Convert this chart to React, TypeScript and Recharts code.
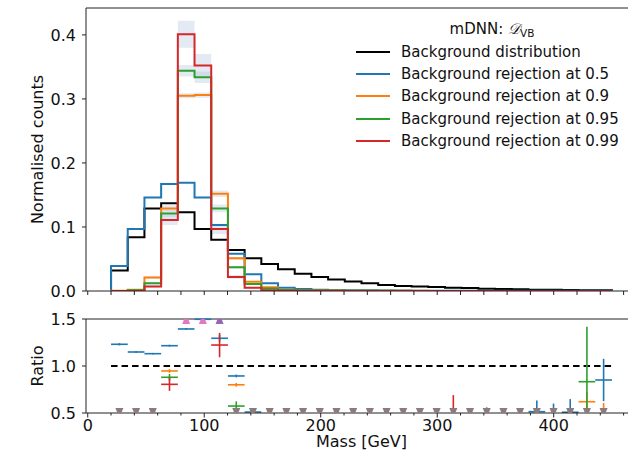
import { ComposedChart, Line, Area, XAxis, YAxis, Scatter, ErrorBar, ReferenceLine, Legend } from 'recharts'

// histogram binning: 30 equal bins between 20 and 450 GeV
const histLow = 20
const histHigh = 450
const nBins = 30
const binEdges = Array.from({ length: nBins + 1 }, (_, i) => histLow + (i * (histHigh - histLow)) / nBins)
const binCentres = binEdges.slice(0, nBins).map((e, i) => (e + binEdges[i + 1]) / 2)
const halfBin = (histHigh - histLow) / nBins / 2

const massTicks = [0, 20, 40, 60, 80, 100, 120, 140, 160, 180, 200, 220, 240, 260, 280, 300, 320, 340, 360, 380, 400, 420, 440, 460]
const countTicks = [0, 0.1, 0.2, 0.3, 0.4]
const ratioTicks = [0.5, 1.0, 1.5]
const ratioLow = 0.5
const ratioHigh = 1.5

// normalised counts per bin
const bgCounts = [0.032, 0.084, 0.129, 0.137, 0.123, 0.097, 0.080, 0.064, 0.051, 0.042, 0.034, 0.027, 0.022, 0.018, 0.015, 0.012, 0.0095, 0.008, 0.0072, 0.0062, 0.005, 0.0045, 0.0035, 0.003, 0.0026, 0.002, 0.0018, 0.0015, 0.0012, 0.001]
const rej50Counts = [0.039, 0.097, 0.146, 0.167, 0.169, 0.146, 0.103, 0.058, 0.026, 0.012, 0.005, 0.003, 0.002, 0.0015, 0.0012, 0.001, 0.0008, 0.0006, 0.0005, 0.0004, 0.0003, 0.0003, 0.0003, 0.0002, 0.0002, 0.0002, 0.0002, 0.0002, 0.0002, 0.0002]
const rej90Counts = [0.0005, 0.002, 0.021, 0.129, 0.305, 0.306, 0.152, 0.051, 0.0146, 0.006, 0.002, 0.0012, 0.0008, 0.0006, 0.0004, 0.0003, 0.0003, 0.0002, 0.0002, 0.0001, 0.0001, 0.0001, 0.0001, 0.0001, 0.0001, 0.0001, 0.0001, 0.0001, 0.0001, 0.0001]
const rej95Counts = [0, 0.001, 0.012, 0.121, 0.344, 0.334, 0.129, 0.037, 0.011, 0.004, 0.0015, 0.001, 0.0006, 0.0004, 0.0003, 0.0002, 0.0002, 0.0001, 0.0001, 0.0001, 0.0001, 0.0001, 0.0001, 0.0001, 0.0001, 0.0001, 0.0001, 0.0001, 0.0001, 0.0001]
const rej99Counts = [0, 0, 0.007, 0.111, 0.401, 0.352, 0.097, 0.022, 0.005, 0.001, 0.0005, 0.0003, 0.0002, 0.0001, 0.0001, 0, 0, 0, 0, 0, 0, 0, 0, 0, 0, 0, 0, 0, 0, 0]

// statistical uncertainty on the tighter selections
const rej90Err = [0, 0, 0.002, 0.005, 0.004, 0.004, 0.005, 0.002, 0.001, 0, 0, 0, 0, 0, 0, 0, 0, 0, 0, 0, 0, 0, 0, 0, 0, 0, 0, 0, 0, 0]
const rej95Err = [0, 0, 0.002, 0.006, 0.009, 0.009, 0.006, 0.002, 0.001, 0, 0, 0, 0, 0, 0, 0, 0, 0, 0, 0, 0, 0, 0, 0, 0, 0, 0, 0, 0, 0]
const rej99Err = [0, 0, 0.002, 0.008, 0.021, 0.018, 0.008, 0.003, 0.001, 0, 0, 0, 0, 0, 0, 0, 0, 0, 0, 0, 0, 0, 0, 0, 0, 0, 0, 0, 0, 0]

// ratio to background: [bin, ratio, uncertainty]
const ratio50 = [[0, 1.231, 0.012], [1, 1.149, 0.01], [2, 1.131, 0.008], [3, 1.216, 0.01], [4, 1.394, 0.008], [5, 1.497, 0.012], [6, 1.295, 0.035], [7, 0.894, 0.015], [8, 0.51, 0.02], [22, 0.45, 0.11], [23, 0.46, 0.08], [24, 0.46, 0.08], [25, 0.514, 0.12], [26, 0.48, 0.12], [27, 0.508, 0.14], [29, 0.851, 0.225]]
const ratio90 = [[3, 0.947, 0.02], [7, 0.8, 0.02], [28, 0.62, 0.1], [29, 0.35, 0.256]]
const ratio95 = [[3, 0.88, 0.035], [7, 0.574, 0.05], [28, 0.833, 0.585]]
const ratio99 = [[3, 0.805, 0.07], [6, 1.223, 0.13], [20, 0.4, 0.29]]
// bins where some selection falls outside the ratio window
const aboveBins = [4, 5, 6]
const aboveColors = ['#e377c2', '#e377c2', '#9467bd']
const belowBins = [0, 1, 2, 7, 8, 9, 10, 11, 12, 13, 14, 15, 16, 17, 18, 19, 20, 21, 22, 23, 24, 25, 26, 27, 28, 29]

const series = [
  { key: 'bg', name: 'Background distribution', color: '#000000' },
  { key: 'r50', name: 'Background rejection at 0.5', color: '#1f77b4' },
  { key: 'r90', name: 'Background rejection at 0.9', color: '#ff7f0e' },
  { key: 'r95', name: 'Background rejection at 0.95', color: '#2ca02c' },
  { key: 'r99', name: 'Background rejection at 0.99', color: '#d62728' },
]

const band = (v: number[], e: number[], i: number) => [Math.max(0, v[i] - e[i]), v[i] + e[i]]

const emptyRow = (x: number) => ({ x, bg: 0, r50: 0, r90: 0, r95: 0, r99: 0, b90: [0, 0], b95: [0, 0], b99: [0, 0] })

// step outline: rise from zero at the first edge, fall back to zero at the last
const histRows = [
  emptyRow(histLow),
  ...binEdges.slice(0, nBins).map((x, i) => ({
    x,
    bg: bgCounts[i],
    r50: rej50Counts[i],
    r90: rej90Counts[i],
    r95: rej95Counts[i],
    r99: rej99Counts[i],
    b90: band(rej90Counts, rej90Err, i),
    b95: band(rej95Counts, rej95Err, i),
    b99: band(rej99Counts, rej99Err, i),
  })),
  emptyRow(histHigh),
]

// keep only the part of each error bar that lies inside the ratio window
const toPoints = (rows: number[][]) =>
  rows.flatMap(([b, r, e]) => {
    const lo = Math.max(r - e, ratioLow)
    const hi = Math.min(r + e, ratioHigh)
    if (hi <= lo) return []
    const inside = r >= ratioLow && r <= ratioHigh
    const y = Math.min(Math.max(r, ratioLow), ratioHigh)
    return [{ x: binCentres[b], y, ex: inside ? halfBin : 0, ey: [y - lo, hi - y] }]
  })

const abovePoints = aboveBins.map((b, i) => ({ x: binCentres[b], y: ratioHigh, color: aboveColors[i] }))
const belowPoints = belowBins.map((b) => ({ x: binCentres[b], y: ratioLow }))

const xDomain = [-1.5, 471.5]
const axisColor = '#222'
const textColor = '#111'

function TopTick({ x, y }: any) {
  return <line x1={x} x2={x} y1={y} y2={y + 4} stroke={axisColor} />
}

function BottomTick({ x, y, payload }: any) {
  const major = payload.value % 100 === 0
  return (
    <g>
      <line x1={x} x2={x} y1={y} y2={y + (major ? 4.5 : 2.5)} stroke={axisColor} />
      {major && (
        <text x={x} y={y + 18} textAnchor="middle" fill={textColor} fontSize={16}>
          {payload.value}
        </text>
      )}
    </g>
  )
}

const noMarker = () => <g />

// triangle markers sit on the frame edge, only the half inside the panel shows
function DownTriangle({ cx, cy }: any) {
  return <polygon points={`${cx - 4},${cy - 5} ${cx + 4},${cy - 5} ${cx + 2},${cy} ${cx - 2},${cy}`} fill="#8c7b7b" />
}

function UpTriangle({ cx, cy, payload }: any) {
  return <polygon points={`${cx - 2},${cy} ${cx + 2},${cy} ${cx + 4},${cy + 5} ${cx - 4},${cy + 5}`} fill={payload.color} />
}

function LegendBox() {
  return (
    <div style={{ fontSize: 15, color: textColor, width: 272 }}>
      <div style={{ height: 22.4, lineHeight: '22.4px', textAlign: 'center' }}>
        mDNN: <span style={{ fontStyle: 'italic' }}>𝒟</span>
        <span style={{ fontSize: 10.5, verticalAlign: '-0.3em' }}>VB</span>
      </div>
      {series.map((s) => (
        <div key={s.key} style={{ display: 'flex', alignItems: 'center', height: 22.4 }}>
          <svg width={34} height={4} style={{ marginRight: 11 }}>
            <line x1={0} x2={34} y1={2} y2={2} stroke={s.color} strokeWidth={2} />
          </svg>
          <span>{s.name}</span>
        </div>
      ))}
    </div>
  )
}

const errorSeries = [
  { data: ratio50, color: '#1f77b4' },
  { data: ratio90, color: '#ff7f0e' },
  { data: ratio95, color: '#2ca02c' },
  { data: ratio99, color: '#d62728' },
]

export default function App() {
  return (
    <div
      style={{
        position: 'absolute',
        left: 0,
        top: 0,
        width: 628,
        height: 460,
        overflow: 'hidden',
        background: '#fff',
        fontFamily: '"DejaVu Sans", sans-serif',
      }}
    >
      <div style={{ position: 'absolute', left: 0, top: 0 }}>
        <ComposedChart width={637} height={301} data={histRows} margin={{ top: 8, right: 0, bottom: 0, left: 0 }}>
          <XAxis
            type="number"
            dataKey="x"
            domain={xDomain}
            allowDataOverflow
            ticks={massTicks}
            interval={0}
            tick={TopTick}
            tickLine={false}
            tickSize={0}
            tickMargin={0}
            height={10}
            stroke={axisColor}
          />
          <YAxis
            type="number"
            domain={[0, 0.442]}
            allowDataOverflow
            ticks={countTicks}
            interval={0}
            tickFormatter={(v: number) => v.toFixed(1)}
            tick={{ fill: textColor, fontSize: 16 }}
            tickSize={4}
            tickMargin={6}
            width={86}
            stroke={axisColor}
            label={{ value: 'Normalised counts', angle: -90, position: 'insideLeft', offset: 37, fill: textColor, fontSize: 16, style: { textAnchor: 'middle' } }}
          />
          <ReferenceLine y={0.442} stroke={axisColor} />
          <Area type="stepAfter" dataKey={(d: any) => d.b90} stroke="none" fill="#b0c4de" fillOpacity={0.35} legendType="none" isAnimationActive={false} />
          <Area type="stepAfter" dataKey={(d: any) => d.b95} stroke="none" fill="#b0c4de" fillOpacity={0.35} legendType="none" isAnimationActive={false} />
          <Area type="stepAfter" dataKey={(d: any) => d.b99} stroke="none" fill="#b0c4de" fillOpacity={0.35} legendType="none" isAnimationActive={false} />
          {series.map((s) => (
            <Line
              key={s.key}
              type="stepAfter"
              dataKey={s.key}
              name={s.name}
              stroke={s.color}
              strokeWidth={2}
              dot={false}
              isAnimationActive={false}
            />
          ))}
          <Legend layout="horizontal" verticalAlign="middle" align="center" wrapperStyle={{ left: 356, top: 18, width: 272 }} content={LegendBox} />
        </ComposedChart>
      </div>
      <div style={{ position: 'absolute', left: 0, top: 311 }}>
        <ComposedChart width={637} height={149} margin={{ top: 8, right: 0, bottom: 0, left: 0 }}>
          <XAxis
            type="number"
            dataKey="x"
            domain={xDomain}
            allowDataOverflow
            ticks={massTicks}
            interval={0}
            tick={BottomTick}
            tickLine={false}
            tickSize={0}
            tickMargin={0}
            height={47}
            stroke={axisColor}
            label={{ value: 'Mass [GeV]', position: 'insideBottom', offset: 13, fill: textColor, fontSize: 16 }}
          />
          <YAxis
            type="number"
            dataKey="y"
            domain={[ratioLow, ratioHigh]}
            allowDataOverflow
            ticks={ratioTicks}
            interval={0}
            tickFormatter={(v: number) => v.toFixed(1)}
            tick={{ fill: textColor, fontSize: 16 }}
            tickSize={4}
            tickMargin={6}
            width={86}
            stroke={axisColor}
            label={{ value: 'Ratio', angle: -90, position: 'insideLeft', offset: 37, fill: textColor, fontSize: 16, style: { textAnchor: 'middle' } }}
          />
          <ReferenceLine y={ratioHigh} stroke={axisColor} />
          <ReferenceLine segment={[{ x: histLow, y: 1 }, { x: histHigh, y: 1 }]} stroke="#000" strokeWidth={1.8} strokeDasharray="6.5 4" />
          <Scatter data={belowPoints} shape={DownTriangle} isAnimationActive={false} />
          <Scatter data={abovePoints} shape={UpTriangle} isAnimationActive={false} />
          {errorSeries.map((s, i) => (
            <Scatter key={i} data={toPoints(s.data)} shape={noMarker} isAnimationActive={false}>
              <ErrorBar dataKey="ex" direction="x" width={0} stroke={s.color} strokeWidth={1.6} />
              <ErrorBar dataKey="ey" direction="y" width={0} stroke={s.color} strokeWidth={1.6} />
            </Scatter>
          ))}
        </ComposedChart>
      </div>
    </div>
  )
}
